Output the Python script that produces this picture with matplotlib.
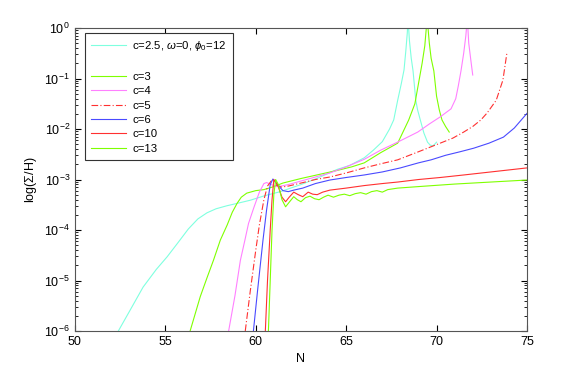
import numpy as np
import matplotlib
matplotlib.use("Agg")
import matplotlib.pyplot as plt
from matplotlib.lines import Line2D

plt.rcParams['font.family'] = ['Liberation Sans', 'DejaVu Sans']
plt.rcParams['mathtext.fontset'] = 'custom'
plt.rcParams['mathtext.rm'] = 'Liberation Sans'
plt.rcParams['mathtext.it'] = 'Liberation Sans:italic'

# values: N and log10(Sigma/H)
n_c25 = [52.4, 53.0, 53.77, 54.5, 55.1, 55.7, 56.27, 56.8, 57.3, 57.8, 58.4, 59.0, 59.7,
         60.5, 61.36, 62.5, 63.5, 64.5, 65.2, 66.0, 66.5, 67.0, 67.4, 67.63, 67.85, 68.05,
         68.2, 68.3, 68.38, 68.42, 68.5, 68.6, 68.7, 68.85, 68.95, 69.1, 69.3, 69.5, 69.65,
         69.8, 69.9, 70.0]
e_c25 = [-6.0, -5.62, -5.13, -4.78, -4.53, -4.25, -3.98, -3.78, -3.66, -3.58, -3.52, -3.47, -3.41,
         -3.32, -3.24, -3.10, -2.96, -2.80, -2.72, -2.57, -2.42, -2.25, -2.0, -1.82, -1.43, -1.1,
         -0.83, -0.45, -0.1, 0.2, -0.25, -0.6, -0.85, -1.43, -1.62, -1.82, -2.08, -2.26, -2.32,
         -2.33, -2.30, -2.26]

n_c3 = [56.37, 56.93, 57.3, 57.66, 58.04, 58.42, 58.7, 58.97, 59.2, 59.5, 60.0, 60.45, 61.0,
        61.5, 62.5, 63.5, 64.5, 65.3, 66.0, 66.9, 67.85, 68.46, 68.8, 69.05, 69.2, 69.35, 69.48,
        69.6, 69.7, 69.85, 70.0, 70.15, 70.3, 70.5, 70.7]
e_c3 = [-6.0, -5.32, -4.95, -4.6, -4.2, -3.9, -3.65, -3.47, -3.35, -3.27, -3.22, -3.2, -3.14,
        -3.07, -2.98, -2.90, -2.82, -2.75, -2.67, -2.47, -2.28, -1.82, -1.5, -1.0, -0.7, -0.35, 0.2,
        -0.3, -0.6, -0.85, -1.35, -1.62, -1.82, -1.95, -2.06]

n_c4 = [58.5, 58.85, 59.15, 59.4, 59.6, 59.9, 60.2, 60.45, 60.6, 60.8, 61.1, 61.4, 61.8, 62.5,
        63.5, 64.1, 65.0, 66.0, 66.9, 67.9, 68.96, 69.6, 70.2, 70.8, 71.06, 71.2, 71.35, 71.5,
        71.62, 71.7, 71.78, 71.9, 72.0]
e_c4 = [-6.0, -5.3, -4.6, -4.2, -3.87, -3.55, -3.25, -3.08, -3.06, -3.09, -3.14, -3.13, -3.1, -3.03,
        -2.93, -2.87, -2.75, -2.60, -2.42, -2.25, -2.06, -1.9, -1.76, -1.6, -1.4, -1.15, -0.85, -0.5,
        -0.15, 0.2, -0.3, -0.65, -0.93]

n_c5 = [59.42, 59.7, 60.0, 60.2, 60.45, 60.65, 60.85, 61.1, 61.4, 61.8, 62.5, 63.3, 64.1, 65.0,
        66.0, 66.9, 67.85, 69.0, 70.2, 70.9, 71.5, 72.0, 72.45, 72.8, 73.3, 73.67, 73.9]
e_c5 = [-6.0, -5.2, -4.4, -3.9, -3.4, -3.13, -3.03, -3.1, -3.15, -3.13, -3.07, -3.0, -2.95, -2.87,
        -2.77, -2.69, -2.61, -2.45, -2.28, -2.18, -2.06, -1.95, -1.82, -1.68, -1.43, -1.03, -0.47]

n_c6 = [59.87, 60.1, 60.4, 60.6, 60.8, 60.95, 61.15, 61.5, 61.8, 62.1, 62.6, 63.3, 64.1, 65.0,
        66.0, 67.0, 68.0, 69.0, 69.7, 70.5, 71.3, 72.05, 72.9, 73.7, 74.3, 75.0]
e_c6 = [-6.0, -5.2, -4.2, -3.6, -3.1, -2.99, -3.08, -3.22, -3.24, -3.21, -3.17, -3.08, -3.01, -2.96,
        -2.91, -2.85, -2.77, -2.67, -2.61, -2.52, -2.45, -2.38, -2.28, -2.16, -1.98, -1.69]

n_c10 = [60.53, 60.65, 60.8, 60.9, 61.0, 61.2, 61.45, 61.65, 61.85, 62.1, 62.35, 62.6, 62.9, 63.15,
         63.4, 63.7, 64.1, 65.0, 66.0, 67.0, 67.85, 69.0, 70.2, 71.5, 73.0, 74.0, 75.0]
e_c10 = [-6.0, -5.0, -4.0, -3.4, -3.0, -3.1, -3.35, -3.44, -3.35, -3.25, -3.3, -3.34, -3.25, -3.29,
         -3.3, -3.25, -3.21, -3.17, -3.12, -3.08, -3.05, -3.0, -2.96, -2.91, -2.85, -2.81, -2.77]

n_c13 = [60.7, 60.8, 60.9, 61.0, 61.1, 61.25, 61.45, 61.65, 61.85, 62.1, 62.3, 62.5, 62.75, 63.0,
         63.25, 63.5, 63.75, 64.0, 64.3, 64.6, 64.9, 65.2, 65.5, 65.8, 66.1, 66.4, 66.7, 67.0,
         67.3, 67.85, 69.0, 71.0, 73.0, 75.0]
e_c13 = [-6.0, -5.0, -4.0, -3.3, -3.0, -3.1, -3.4, -3.54, -3.45, -3.34, -3.4, -3.44, -3.36, -3.33,
         -3.38, -3.4, -3.35, -3.31, -3.35, -3.31, -3.29, -3.32, -3.28, -3.26, -3.29, -3.24, -3.22,
         -3.25, -3.2, -3.17, -3.14, -3.09, -3.05, -3.01]

labels = [r'c=2.5, $\omega$=0, $\phi_0$=12', 'c=3', 'c=4', 'c=5', 'c=6', 'c=10', 'c=13']
series = [(n_c25, e_c25), (n_c3, e_c3), (n_c4, e_c4), (n_c5, e_c5),
          (n_c6, e_c6), (n_c10, e_c10), (n_c13, e_c13)]
colors = ['#7fffdf', '#7fff00', '#ff80ff', '#ff3030', '#4a4aff', '#ff3030', '#7fff00']
styles = ['-', '-', '-', (0, (6, 2, 1, 2)), '-', '-', '-']

fig = plt.figure(figsize=(5.81, 3.74), dpi=100)
ax = fig.add_axes([0.129, 0.115, 0.778, 0.81])

lines = []
for (n, e), lab, col, ls in zip(series, labels, colors, styles):
    ln, = ax.plot(n, 10.0 ** np.array(e), color=col, ls=ls, lw=0.8, label=lab)
    lines.append(ln)

ax.set_yscale('log')
ax.set_xlim(50, 75)
ax.set_ylim(1e-6, 1)
ax.set_xticks([50, 55, 60, 65, 70, 75])
ax.tick_params(which='both', direction='in', top=True, right=True, labelsize=9)
ax.tick_params(which='major', length=4)
ax.tick_params(which='minor', length=2)
for s in ax.spines.values():
    s.set_color('#555555')
ax.set_xlabel('N', fontsize=9)
ax.set_ylabel(r'log($\Sigma$/H)', fontsize=9)

# blank row after the first entry, like the matlab legend gap
spacer = Line2D([], [], linestyle='none')
handles = [lines[0], spacer] + lines[1:]
leg_labels = [labels[0], ''] + labels[1:]
leg = ax.legend(handles, leg_labels, loc='upper left', bbox_to_anchor=(0.022, 0.983),
                borderaxespad=0, fontsize=8.2, fancybox=False, framealpha=1,
                edgecolor='#333333', handlelength=3.1, handletextpad=0.5,
                labelspacing=0.38, borderpad=0.55)
leg.get_frame().set_linewidth(0.8)

fig.savefig('out.png', dpi=100)
